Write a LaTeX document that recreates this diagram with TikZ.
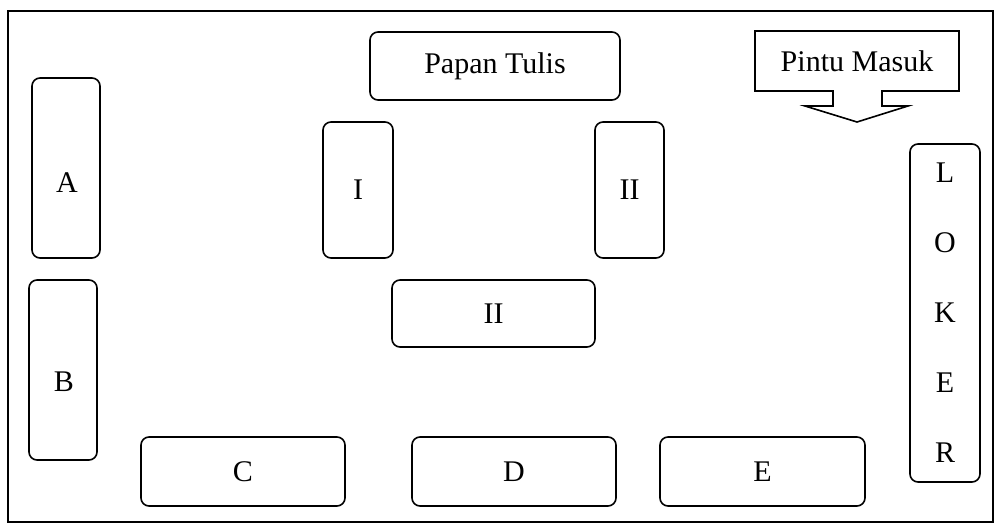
\documentclass[tikz,border=0pt]{standalone}
\usepackage{fontspec}
\setmainfont{Liberation Serif}
\begin{document}
\begin{tikzpicture}[x=1pt,y=-1pt,
  room/.style={draw=black,line width=1.4pt},
  box/.style={draw=black,line width=1.6pt,rounded corners=8pt,inner sep=0pt},
  door/.style={draw=black,line width=1.6pt,line join=miter},
  lbl/.style={font=\fontsize{30}{36}\selectfont,inner sep=0pt}]
\useasboundingbox (0,0) rectangle (997,525);
\draw[room] (8,11) rectangle (993,522);
% whiteboard
\node[box,lbl,minimum width=250pt,minimum height=68pt] (papan) at (495,66) {Papan Tulis};
% entrance
\draw[door] (755,31) -- (959,31) -- (959,91) -- (882,91) -- (882,106) -- (908,106)
  -- (857,122) -- (805,106) -- (833,106) -- (833,91) -- (755,91) -- cycle;
\node[lbl] (pintu) at (857,61) {Pintu Masuk};
% left tables
\node[box,minimum width=68pt,minimum height=180pt] (A) at (66,168) {};
\node[lbl] (Atxt) at (67,183) {A};
\node[box,minimum width=68pt,minimum height=180pt] (B) at (63,370) {};
\node[lbl] (Btxt) at (64,382) {B};
% groups
\node[box,lbl,minimum width=70pt,minimum height=136pt] (I) at (358,190) {I};
\node[box,lbl,minimum width=69pt,minimum height=136pt] (IIr) at (629.5,190) {II};
\node[box,lbl,minimum width=203pt,minimum height=67pt] (IIm) at (493.5,313.5) {II};
% bottom tables
\node[box,lbl,minimum width=204pt,minimum height=69pt] (C) at (243,471.5) {C};
\node[box,lbl,minimum width=204pt,minimum height=69pt] (D) at (514,471.5) {D};
\node[box,lbl,minimum width=205pt,minimum height=69pt] (E) at (762.5,471.5) {E};
% locker
\node[box,minimum width=70pt,minimum height=338pt] (loker) at (945,313) {};
\node[lbl] (L1) at (945,173) {L};
\node[lbl] (L2) at (945,243) {O};
\node[lbl] (L3) at (945,313) {K};
\node[lbl] (L4) at (945,383) {E};
\node[lbl] (L5) at (945,453) {R};
\end{tikzpicture}
\end{document}
